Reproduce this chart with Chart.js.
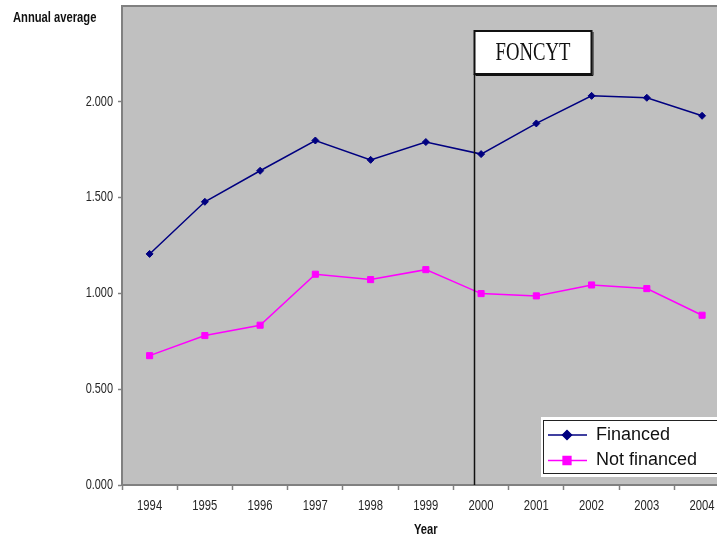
<!DOCTYPE html>
<html>
<head>
<meta charset="utf-8">
<script src="https://cdn.jsdelivr.net/npm/chart.js@4.4.1/dist/chart.umd.min.js"></script>
<style>
  html, body { margin: 0; padding: 0; background: #fff; overflow: hidden; width: 717px; height: 537px; }
  canvas { display: block; }
</style>
</head>
<body>
<canvas id="chart" width="735" height="537"></canvas>
<script>
// Annual average per researcher group, 1994-2004
const years = ['1994', '1995', '1996', '1997', '1998', '1999', '2000', '2001', '2002', '2003', '2004'];
const financed    = [1.206, 1.478, 1.640, 1.798, 1.697, 1.790, 1.727, 1.887, 2.031, 2.021, 1.927];
const notFinanced = [0.675, 0.780, 0.834, 1.100, 1.072, 1.124, 0.999, 0.987, 1.044, 1.025, 0.886];
const yTickValues = [0, 0.5, 1.0, 1.5, 2.0];
const yMax = 2.5;
const yTitle = 'Annual average';
const xTitle = 'Year';

// Start of the FONCYT programme, in category units along the year axis
const programLabel = 'FONCYT';
const programStart = 5.87;

const SANS = "'Liberation Sans', Arial, sans-serif";
const AXIS_GRAY = '#808080';

// Draws text squeezed horizontally, like a narrow typeface
function narrowText(ctx, text, x, y, font, align, squeeze, color) {
  ctx.save();
  ctx.font = font;
  ctx.fillStyle = color;
  ctx.textAlign = align;
  ctx.textBaseline = 'middle';
  ctx.translate(x, y);
  ctx.scale(squeeze, 1);
  ctx.fillText(text, 0, 0);
  ctx.restore();
}

// Grey plot background with a top frame line
const plotBackground = {
  id: 'plotBackground',
  beforeDraw(chart) {
    const { ctx, chartArea: a } = chart;
    ctx.save();
    ctx.fillStyle = '#c0c0c0';
    ctx.fillRect(a.left, a.top, a.right - a.left, a.bottom - a.top);
    ctx.strokeStyle = AXIS_GRAY;
    ctx.lineWidth = 2;
    ctx.beginPath();
    ctx.moveTo(a.left, a.top);
    ctx.lineTo(a.right + 2, a.top);
    ctx.stroke();
    ctx.restore();
  }
};

// Tick labels and axis captions in a condensed face
const axisText = {
  id: 'axisText',
  afterDraw(chart) {
    const { ctx, chartArea: a, scales: { x, y } } = chart;
    y.ticks.forEach((t, i) => {
      const label = t.label != null ? t.label : Number(t.value).toFixed(3);
      narrowText(ctx, label, a.left - 9, y.getPixelForTick(i), '14px ' + SANS, 'right', 0.78, '#262626');
    });
    x.ticks.forEach((t, i) => {
      const label = t.label != null ? t.label : x.getLabelForValue(t.value);
      narrowText(ctx, label, x.getPixelForTick(i), a.bottom + 21, '15px ' + SANS, 'center', 0.75, '#262626');
    });
    narrowText(ctx, yTitle, 13, 18, 'bold 14px ' + SANS, 'left', 0.8, '#111');
    narrowText(ctx, xTitle, (a.left + a.right) / 2, a.bottom + 45, 'bold 14px ' + SANS, 'center', 0.8, '#111');
  }
};

// Vertical marker for the programme start with its label box
const programMarker = {
  id: 'programMarker',
  afterDatasetsDraw(chart) {
    const { ctx, chartArea: a } = chart;
    const x = Math.round(chart.scales.x.getPixelForValue(programStart)) + 0.5;
    const boxTop = a.top + 25, boxW = 117, boxH = 43;
    ctx.save();
    ctx.strokeStyle = '#111';
    ctx.lineWidth = 1.5;
    ctx.beginPath();
    ctx.moveTo(x, boxTop + boxH);
    ctx.lineTo(x, a.bottom);
    ctx.stroke();

    ctx.fillStyle = '#fff';
    ctx.fillRect(x, boxTop, boxW, boxH);
    ctx.lineWidth = 2;
    ctx.strokeRect(x, boxTop, boxW, boxH);
    ctx.lineWidth = 1;
    ctx.beginPath();
    ctx.moveTo(x + boxW + 1.5, boxTop + 1);
    ctx.lineTo(x + boxW + 1.5, boxTop + boxH + 1.5);
    ctx.lineTo(x + 1, boxTop + boxH + 1.5);
    ctx.stroke();
    ctx.restore();

    narrowText(ctx, programLabel, x + boxW / 2, boxTop + boxH / 2 + 1,
      "26px 'Liberation Serif', 'Times New Roman', serif", 'center', 0.72, '#111');
  }
};

// Boxed legend in the lower-right corner of the plot
const cornerLegend = {
  id: 'cornerLegend',
  afterDraw(chart) {
    const { ctx, chartArea: a } = chart;
    const left = 541, top = a.bottom - 68, bottom = a.bottom - 8;
    ctx.save();
    ctx.fillStyle = '#fff';
    ctx.fillRect(left, top, chart.width - left + 5, bottom - top);
    ctx.strokeStyle = '#222';
    ctx.lineWidth = 1;
    ctx.strokeRect(left + 2.5, top + 3.5, chart.width - left + 5, bottom - top - 7);

    const rows = [a.bottom - 50, a.bottom - 24.5];
    chart.data.datasets.forEach((ds, i) => {
      const y = rows[i];
      ctx.strokeStyle = ds.borderColor;
      ctx.lineWidth = 1.5;
      ctx.beginPath();
      ctx.moveTo(548, y);
      ctx.lineTo(587, y);
      ctx.stroke();
      ctx.fillStyle = ds.backgroundColor;
      Chart.helpers.drawPoint(ctx, {
        pointStyle: ds.pointStyle,
        radius: ds.pointStyle === 'rect' ? 5.5 : 4.5,
        rotation: 0,
        borderWidth: 1
      }, 567, y);
      ctx.fill();
      ctx.fillStyle = '#111';
      ctx.font = '18px ' + SANS;
      ctx.textAlign = 'left';
      ctx.textBaseline = 'middle';
      ctx.fillText(ds.label, 596, y);
    });
    ctx.restore();
  }
};

new Chart(document.getElementById('chart'), {
  type: 'line',
  data: {
    labels: years,
    datasets: [
      {
        label: 'Financed',
        data: financed,
        borderColor: '#000080',
        backgroundColor: '#000080',
        borderWidth: 1.5,
        pointStyle: 'rectRot',
        pointRadius: 3.5,
        pointBorderWidth: 1,
        tension: 0
      },
      {
        label: 'Not financed',
        data: notFinanced,
        borderColor: '#ff00ff',
        backgroundColor: '#ff00ff',
        borderWidth: 1.5,
        pointStyle: 'rect',
        pointRadius: 4.3,
        pointBorderWidth: 1,
        tension: 0
      }
    ]
  },
  options: {
    responsive: false,
    animation: false,
    devicePixelRatio: 1,
    layout: { padding: { top: 6, right: 0, bottom: 0, left: 0 } },
    plugins: {
      legend: { display: false },
      tooltip: { enabled: false },
      title: { display: false }
    },
    scales: {
      x: {
        type: 'category',
        offset: true,
        grid: {
          offset: true,
          drawOnChartArea: false,
          drawTicks: true,
          tickLength: 5,
          tickColor: AXIS_GRAY,
          tickWidth: 1.5
        },
        border: { display: true, color: AXIS_GRAY, width: 2 },
        ticks: { display: false, autoSkip: false, maxRotation: 0 },
        afterFit(scale) { scale.height = 52; }
      },
      y: {
        min: 0,
        max: yMax,
        afterBuildTicks(scale) {
          scale.ticks = yTickValues.map(v => ({ value: v }));
        },
        grid: {
          drawOnChartArea: false,
          drawTicks: true,
          tickLength: 4,
          tickColor: AXIS_GRAY,
          tickWidth: 1.5
        },
        border: { display: true, color: AXIS_GRAY, width: 2 },
        ticks: {
          display: false,
          callback: v => Number(v).toFixed(3)
        },
        afterFit(scale) { scale.width = 122; }
      }
    }
  },
  plugins: [plotBackground, programMarker, axisText, cornerLegend]
});
</script>
</body>
</html>
